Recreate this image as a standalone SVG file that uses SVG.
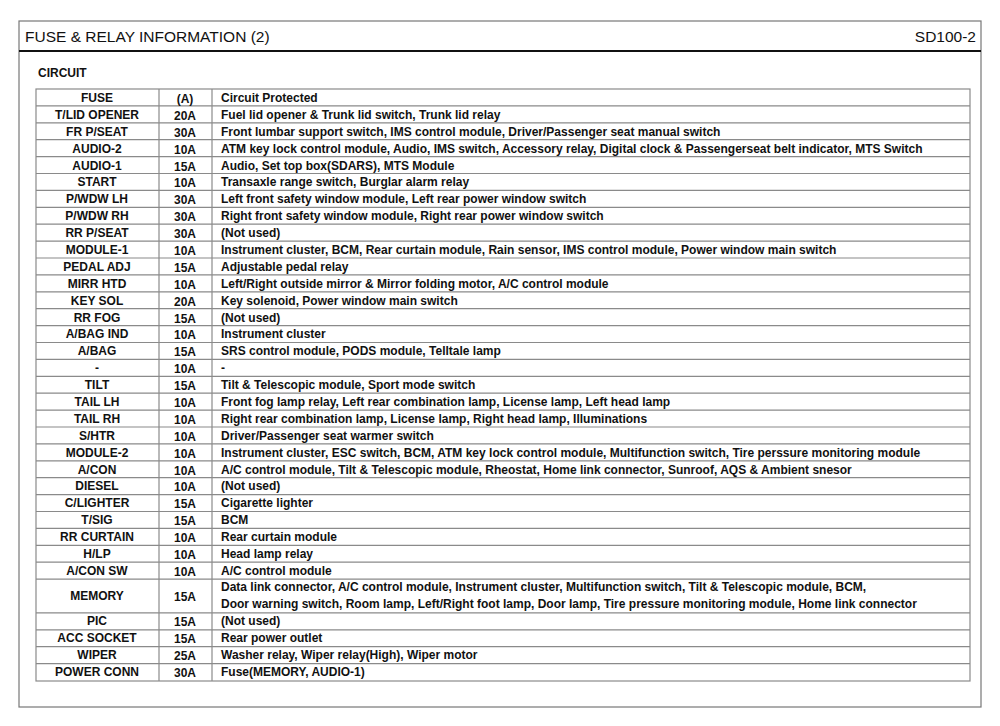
<svg xmlns="http://www.w3.org/2000/svg" width="1000" height="726" viewBox="0 0 1000 726">
<style>
text{font-family:"Liberation Sans",Arial,sans-serif;fill:#111}
.t{font-size:12px;font-weight:bold}
.c{text-anchor:middle}
.g{stroke:#8a8a8a;stroke-width:1.2;fill:none}
</style>
<rect width="1000" height="726" fill="#fff"/>
<rect x="19" y="21" width="962" height="686" fill="none" stroke="#777" stroke-width="1.2"/>
<line x1="19" y1="51" x2="981" y2="51" stroke="#111" stroke-width="2.2"/>
<text x="25" y="42" font-size="15.5">FUSE &amp; RELAY INFORMATION (2)</text>
<text x="976" y="42" font-size="15.5" text-anchor="end">SD100-2</text>
<text x="38" y="77" class="t">CIRCUIT</text>
<g id="table">
<rect x="36" y="89" width="934" height="592" class="g"/>
<line x1="159" y1="89" x2="159" y2="681" class="g"/>
<line x1="212" y1="89" x2="212" y2="681" class="g"/>
<g class="g">
<path d="M36 105.9H970M36 122.8H970M36 139.7H970M36 156.6H970M36 173.5H970M36 190.4H970M36 207.3H970M36 224.2H970M36 241.1H970M36 258H970M36 274.9H970M36 291.8H970M36 308.7H970M36 325.6H970M36 342.5H970M36 359.4H970M36 376.3H970M36 393.2H970M36 410.1H970M36 427H970M36 443.9H970M36 460.8H970M36 477.7H970M36 494.6H970M36 511.5H970M36 528.4H970M36 545.3H970M36 562.2H970M36 579.1H970M36 612.9H970M36 629.8H970M36 646.7H970M36 663.6H970"/>
</g>
</g>
<g class="t">
<text x="97" y="102" class="c">FUSE</text><text x="185" y="103" class="c">(A)</text><text x="221" y="102">Circuit Protected</text>
<text x="97" y="119" class="c">T/LID OPENER</text><text x="185" y="120" class="c">20A</text><text x="221" y="119">Fuel lid opener &amp; Trunk lid switch, Trunk lid relay</text>
<text x="97" y="136" class="c">FR P/SEAT</text><text x="185" y="137" class="c">30A</text><text x="221" y="136">Front lumbar support switch, IMS control module, Driver/Passenger seat manual switch</text>
<text x="97" y="153" class="c">AUDIO-2</text><text x="185" y="154" class="c">10A</text><text x="221" y="153">ATM key lock control module, Audio, IMS switch, Accessory relay, Digital clock &amp;  Passengerseat belt indicator, MTS Switch</text>
<text x="97" y="170" class="c">AUDIO-1</text><text x="185" y="171" class="c">15A</text><text x="221" y="170">Audio, Set top box(SDARS), MTS Module</text>
<text x="97" y="186" class="c">START</text><text x="185" y="187" class="c">10A</text><text x="221" y="186">Transaxle range switch, Burglar alarm relay</text>
<text x="97" y="203" class="c">P/WDW LH</text><text x="185" y="204" class="c">30A</text><text x="221" y="203">Left front safety window module, Left rear power window switch</text>
<text x="97" y="220" class="c">P/WDW RH</text><text x="185" y="221" class="c">30A</text><text x="221" y="220">Right front safety window module, Right rear power window switch</text>
<text x="97" y="237" class="c">RR P/SEAT</text><text x="185" y="238" class="c">30A</text><text x="221" y="237">(Not used)</text>
<text x="97" y="254" class="c">MODULE-1</text><text x="185" y="255" class="c">10A</text><text x="221" y="254">Instrument cluster, BCM, Rear curtain module, Rain sensor, IMS control module, Power window main switch</text>
<text x="97" y="271" class="c">PEDAL ADJ</text><text x="185" y="272" class="c">15A</text><text x="221" y="271">Adjustable pedal relay</text>
<text x="97" y="288" class="c">MIRR HTD</text><text x="185" y="289" class="c">10A</text><text x="221" y="288">Left/Right outside mirror &amp; Mirror folding motor, A/C control module</text>
<text x="97" y="305" class="c">KEY SOL</text><text x="185" y="306" class="c">20A</text><text x="221" y="305">Key solenoid, Power window main switch</text>
<text x="97" y="322" class="c">RR FOG</text><text x="185" y="323" class="c">15A</text><text x="221" y="322">(Not used)</text>
<text x="97" y="338" class="c">A/BAG IND</text><text x="185" y="339" class="c">10A</text><text x="221" y="338">Instrument cluster</text>
<text x="97" y="355" class="c">A/BAG</text><text x="185" y="356" class="c">15A</text><text x="221" y="355">SRS control module, PODS module, Telltale lamp</text>
<text x="97" y="372" class="c">-</text><text x="185" y="373" class="c">10A</text><text x="221" y="372">-</text>
<text x="97" y="389" class="c">TILT</text><text x="185" y="390" class="c">15A</text><text x="221" y="389">Tilt &amp; Telescopic module, Sport mode switch</text>
<text x="97" y="406" class="c">TAIL LH</text><text x="185" y="407" class="c">10A</text><text x="221" y="406">Front fog lamp relay, Left rear combination lamp, License lamp, Left head lamp</text>
<text x="97" y="423" class="c">TAIL RH</text><text x="185" y="424" class="c">10A</text><text x="221" y="423">Right rear combination lamp, License lamp, Right head lamp, Illuminations</text>
<text x="97" y="440" class="c">S/HTR</text><text x="185" y="441" class="c">10A</text><text x="221" y="440">Driver/Passenger seat warmer switch</text>
<text x="97" y="457" class="c">MODULE-2</text><text x="185" y="458" class="c">10A</text><text x="221" y="457">Instrument cluster, ESC switch, BCM, ATM key lock control module, Multifunction switch, Tire perssure monitoring module</text>
<text x="97" y="474" class="c">A/CON</text><text x="185" y="475" class="c">10A</text><text x="221" y="474">A/C control module, Tilt &amp; Telescopic module, Rheostat, Home link connector, Sunroof, AQS &amp; Ambient snesor</text>
<text x="97" y="490" class="c">DIESEL</text><text x="185" y="491" class="c">10A</text><text x="221" y="490">(Not used)</text>
<text x="97" y="507" class="c">C/LIGHTER</text><text x="185" y="508" class="c">15A</text><text x="221" y="507">Cigarette lighter</text>
<text x="97" y="524" class="c">T/SIG</text><text x="185" y="525" class="c">15A</text><text x="221" y="524">BCM</text>
<text x="97" y="541" class="c">RR CURTAIN</text><text x="185" y="542" class="c">10A</text><text x="221" y="541">Rear curtain module</text>
<text x="97" y="558" class="c">H/LP</text><text x="185" y="559" class="c">10A</text><text x="221" y="558">Head lamp relay</text>
<text x="97" y="575" class="c">A/CON SW</text><text x="185" y="576" class="c">10A</text><text x="221" y="575">A/C control module</text>
<text x="97" y="600" class="c">MEMORY</text><text x="185" y="601" class="c">15A</text><text x="221" y="591">Data link connector, A/C control module, Instrument cluster, Multifunction switch, Tilt &amp; Telescopic module, BCM,</text><text x="221" y="608">Door warning switch, Room lamp, Left/Right foot lamp, Door lamp, Tire pressure monitoring module, Home link connector</text>
<text x="97" y="625" class="c">PIC</text><text x="185" y="626" class="c">15A</text><text x="221" y="625">(Not used)</text>
<text x="97" y="642" class="c">ACC SOCKET</text><text x="185" y="643" class="c">15A</text><text x="221" y="642">Rear power outlet</text>
<text x="97" y="659" class="c">WIPER</text><text x="185" y="660" class="c">25A</text><text x="221" y="659">Washer relay, Wiper relay(High), Wiper motor</text>
<text x="97" y="676" class="c">POWER CONN</text><text x="185" y="677" class="c">30A</text><text x="221" y="676">Fuse(MEMORY, AUDIO-1)</text>
</g>
</svg>
